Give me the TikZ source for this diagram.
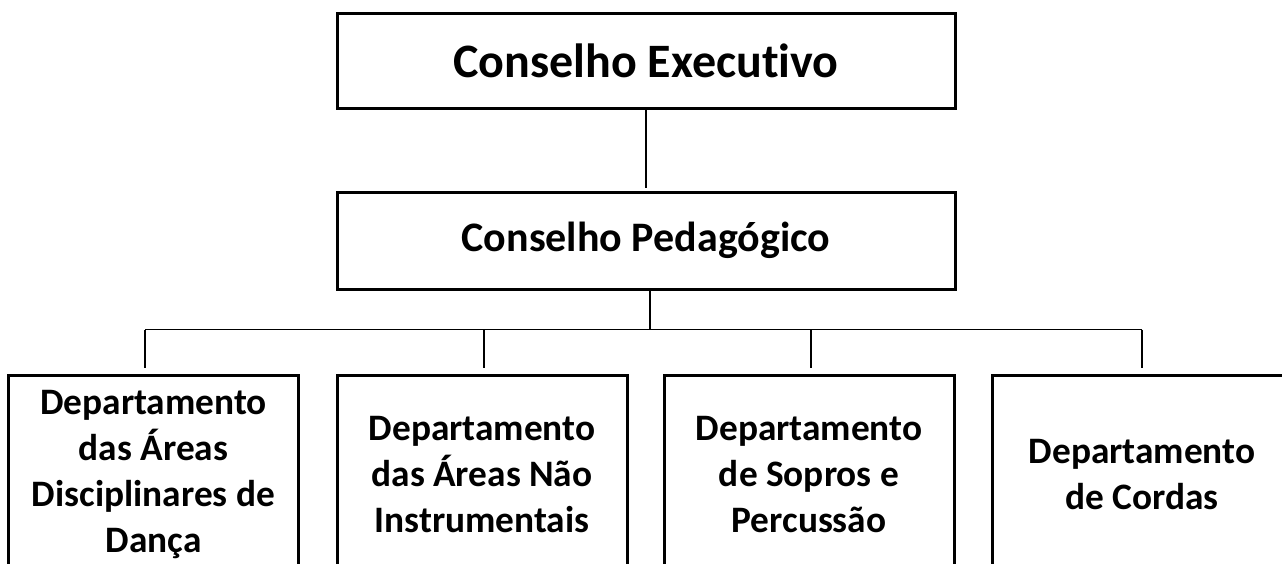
\documentclass[tikz,border=0pt]{standalone}
\usepackage{fontspec}
\setmainfont[Ligatures=NoCommon]{Carlito}
\usetikzlibrary{positioning}

\begin{document}
\begin{tikzpicture}[x=0.75pt, y=-0.75pt, semithick,
                board/.style ={rectangle, draw, line width=2.25pt, minimum width=463.5pt,
                font=\bfseries\fontsize{36}{43}\selectfont},
                dept/.style ={rectangle, draw, line width=2.25pt, minimum width=217.5pt,
                minimum height=149.25pt, align=center, font=\bfseries\fontsize{28}{34.5}\selectfont},
                link/.style ={line width=1.1pt}]

            \useasboundingbox (0,0) rectangle (1282,564);
            \clip (0,0) rectangle (1282,564);

            %\node [estilo] (nombre) at (x,y) {};
            \node[board, minimum height=71.25pt] (exec) at (646,60.5) {Conselho Executivo};
            \node[board, minimum height=72.75pt, font=\bfseries\fontsize{31.5}{38}\selectfont] (ped) at (646,240.5) {Conselho Pedagógico};

            \node[dept] (d1) at (153.5,474.5) {Departamento\\das Áreas\\Disciplinares de\\Dança};
            \node[dept] (d2) at (482,474.5) {Departamento\\das Áreas Não\\Instrumentais};
            \node[dept] (d3) at (809,474.5) {Departamento\\de Sopros e\\Percussão};
            \node[dept, minimum width=225pt] (d4) at (1142,474.5) {Departamento\\de Cordas};

            \coordinate (hub) at (650,329.5);
            \coordinate (t1) at (145,329.5);
            \coordinate (t2) at (484,329.5);
            \coordinate (t3) at (811,329.5);
            \coordinate (t4) at (1142,329.5);

            \draw[link, shorten >=2.25pt] (exec) -- (ped);
            \draw[link] (ped.south -| hub) -- (hub);
            \draw[link] (t1) -- (t4);
            %una bajada por departamento
            \foreach \t/\d in {t1/d1, t2/d2, t3/d3, t4/d4}
                \draw[link, shorten >=4pt] (\t) -- (\t |- \d.north);
    \end{tikzpicture}
\end{document}
